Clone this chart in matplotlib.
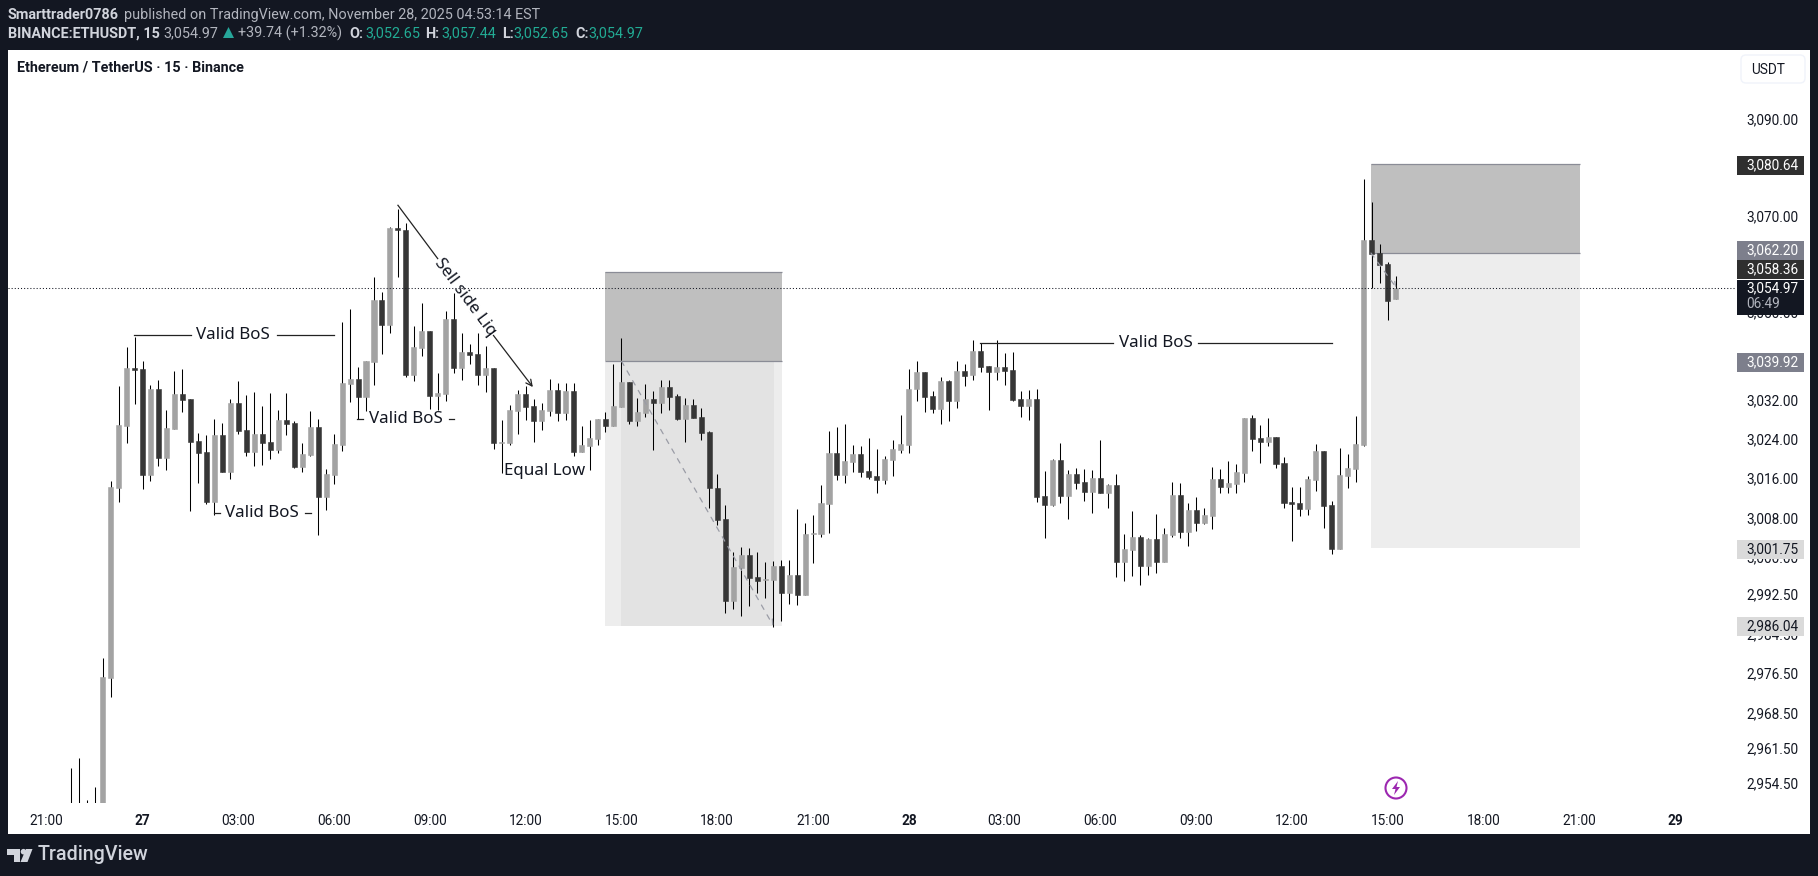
import matplotlib
matplotlib.use('Agg')
import matplotlib.pyplot as plt
from matplotlib.patches import Rectangle, Polygon, Circle, FancyBboxPatch
from matplotlib.ticker import NullLocator

plt.rcParams['font.family'] = ['Roboto', 'DejaVu Sans']

# candles, 15 min each, first one is 9 bars before 27 Nov 00:00
first_bar = -9
opens = [2945, 2942, 2945, 2946, 2948, 2975.6, 3014.0, 3026.6, 3038.5,
         3038.3, 3016.6, 3034.1, 3020.1, 3026.0, 3033.1, 3032.1, 3023.5, 3021.3, 3011.1,
         3024.7, 3017.2, 3031.3, 3025.8, 3021.3, 3024.9, 3023.3, 3021.7, 3027.8, 3027.2,
         3018.3, 3020.7, 3026.4, 3012.2, 3016.6, 3022.8, 3035.3, 3036.2, 3032.6, 3039.7,
         3052.4, 3047.3, 3067.3, 3066.9, 3037.1, 3042.6, 3046.1, 3032.8, 3033.2, 3048.5,
         3038.5, 3041.7, 3041.3, 3037.1, 3038.5, 3023.1, 3023.2, 3029.7, 3033.1, 3030.7,
         3027.7, 3029.7, 3033.9, 3029.3, 3033.7, 3021.3, 3022.5, 3023.9, 3028.0, 3026.6,
         3030.5, 3035.6, 3027.7, 3029.2, 3032.1, 3031.3, 3034.6, 3032.7, 3028.0, 3030.9,
         3028.4, 3025.4, 3013.9, 3007.6, 2991.1, 2997.7, 3000.3, 2995.9, 2995.3, 2995.3,
         2998.1, 2992.6, 2996.3, 2992.2, 3004.6, 3004.6, 3010.7, 3021.1, 3016.6, 3019.2,
         3020.9, 3017.4, 3016.4, 3015.6, 3019.6, 3021.7, 3022.7, 3034.1, 3037.7, 3032.7,
         3030.1, 3035.8, 3031.7, 3037.9, 3037.0, 3042.0, 3038.9, 3037.7, 3038.7, 3038.1,
         3032.1, 3030.7, 3032.1, 3012.3, 3010.5, 3019.6, 3012.3, 3016.8, 3015.2, 3013.1,
         3016.0, 3012.9, 3014.5, 2998.9, 3001.3, 3004.0, 2998.1, 3003.6, 2998.9, 3004.4,
         3012.5, 3005.0, 3009.5, 3006.8, 3008.3, 3015.8, 3014.1, 3014.7, 3017.0, 3028.2,
         3024.1, 3023.3, 3024.3, 3019.0, 3011.1, 3010.9, 3009.7, 3015.6, 3021.5, 3010.5,
         3001.5, 3016.4, 3017.8, 3022.7, 3065.0, 3062.2, 3059.9, 3052.65]
highs = [2957.5, 2959.5, 2951.1, 2953.7, 2979.5, 3015.3, 3034.8, 3042.8, 3044.8,
         3039.9, 3035.0, 3036.0, 3029.8, 3037.9, 3038.3, 3032.1, 3025.1, 3024.7, 3028.0,
         3027.2, 3032.1, 3035.8, 3032.9, 3033.5, 3030.7, 3033.3, 3029.9, 3033.3, 3027.6,
         3023.1, 3029.6, 3028.0, 3017.8, 3024.9, 3047.9, 3050.6, 3038.7, 3039.9, 3057.2,
         3054.1, 3067.5, 3071.3, 3068.4, 3047.1, 3051.8, 3046.1, 3037.4, 3050.2, 3053.9,
         3045.7, 3043.4, 3045.7, 3043.0, 3038.5, 3027.8, 3030.9, 3033.9, 3034.8, 3032.1,
         3031.3, 3036.2, 3035.4, 3035.4, 3035.4, 3026.6, 3027.8, 3028.0, 3029.4, 3039.3,
         3044.6, 3035.6, 3032.3, 3035.2, 3033.7, 3036.0, 3036.0, 3033.1, 3032.3, 3032.1,
         3030.3, 3025.6, 3016.8, 3010.5, 3000.9, 3001.9, 3001.7, 3000.9, 2998.9, 2999.1,
         2999.3, 2999.3, 3009.7, 3006.8, 3008.5, 3014.5, 3025.6, 3026.4, 3027.0, 3022.7,
         3022.5, 3024.1, 3021.9, 3020.5, 3023.7, 3028.9, 3038.3, 3039.9, 3037.7, 3033.7,
         3036.6, 3036.0, 3039.9, 3039.3, 3044.2, 3043.6, 3038.9, 3044.2, 3041.5, 3041.7,
         3033.7, 3033.9, 3034.3, 3017.4, 3019.8, 3023.1, 3017.6, 3018.0, 3017.8, 3017.6,
         3023.7, 3014.7, 3016.8, 3004.6, 3009.3, 3004.4, 3003.8, 3008.7, 3005.8, 3015.2,
         3014.9, 3010.9, 3012.1, 3009.9, 3018.3, 3017.8, 3019.4, 3018.8, 3028.2, 3028.9,
         3026.8, 3028.2, 3024.3, 3020.3, 3014.1, 3014.1, 3016.4, 3022.9, 3021.5, 3011.3,
         3022.1, 3020.9, 3028.6, 3077.5, 3072.7, 3064.0, 3060.3, 3057.44]
lows = [2940, 2938, 2940, 2944, 2946, 2971.7, 3011.1, 3023.2, 3031.1,
        3013.8, 3015.4, 3018.5, 3017.7, 3026.0, 3029.5, 3009.3, 3015.0, 3010.7, 3008.5,
        3017.2, 3015.8, 3025.0, 3020.5, 3018.5, 3018.7, 3019.9, 3021.1, 3024.8, 3018.1,
        3017.2, 3020.5, 3004.4, 3009.5, 3014.8, 3021.5, 3031.6, 3028.0, 3029.7, 3035.0,
        3041.3, 3045.7, 3057.2, 3036.6, 3035.9, 3041.0, 3030.1, 3029.9, 3031.8, 3037.5,
        3036.1, 3039.4, 3035.0, 3033.6, 3021.9, 3017.0, 3022.7, 3025.0, 3027.8, 3023.4,
        3025.8, 3028.7, 3027.7, 3027.8, 3020.5, 3021.3, 3017.6, 3022.7, 3025.4, 3026.6,
        3030.5, 3027.1, 3026.6, 3028.4, 3021.8, 3029.2, 3029.9, 3027.8, 3023.3, 3028.2,
        3023.7, 3009.9, 3006.4, 2988.6, 2989.4, 2988.0, 2990.0, 2992.6, 2991.6, 2985.7,
        2987.0, 2990.4, 2990.2, 2992.2, 2998.7, 3004.0, 3004.8, 3015.6, 3014.9, 3017.2,
        3016.2, 3015.8, 3012.9, 3014.7, 3016.4, 3021.1, 3021.1, 3031.7, 3029.4, 3029.2,
        3027.0, 3027.6, 3030.3, 3034.8, 3036.0, 3037.7, 3029.9, 3036.0, 3035.0, 3031.7,
        3028.4, 3027.8, 3011.1, 3003.8, 3010.3, 3010.9, 3007.6, 3013.7, 3011.3, 3008.9,
        3012.9, 3009.9, 2995.9, 2995.1, 2996.1, 2994.3, 2996.3, 2996.7, 2998.9, 3004.0,
        3003.8, 3002.1, 3005.2, 3006.6, 3005.6, 3012.9, 3012.9, 3012.9, 3015.2, 3021.5,
        3019.0, 3022.5, 3018.0, 3009.9, 3003.2, 3008.3, 3008.5, 3013.3, 3005.8, 3000.5,
        3001.5, 3013.9, 3015.2, 3022.5, 3054.9, 3056.0, 3048.3, 3052.65]
closes = [2942, 2945, 2946, 2948, 2975.7, 3014.1, 3026.8, 3038.5, 3038.1,
          3016.6, 3034.1, 3020.1, 3026.2, 3033.1, 3032.0, 3023.4, 3021.1, 3011.1, 3024.7,
          3017.2, 3031.3, 3025.6, 3021.3, 3024.9, 3023.2, 3021.7, 3027.8, 3027.0, 3018.3,
          3020.9, 3026.4, 3012.2, 3016.8, 3022.9, 3035.4, 3036.2, 3032.6, 3039.9, 3052.4,
          3047.3, 3067.3, 3066.9, 3037.0, 3042.8, 3046.1, 3032.8, 3033.3, 3048.5, 3038.5,
          3041.7, 3041.1, 3037.1, 3038.5, 3023.2, 3023.3, 3029.9, 3033.1, 3030.5, 3027.7,
          3029.9, 3033.9, 3029.3, 3033.7, 3021.3, 3022.7, 3024.1, 3028.0, 3026.6, 3030.7,
          3035.6, 3027.7, 3029.4, 3032.1, 3031.3, 3034.6, 3032.5, 3028.0, 3030.9, 3028.2,
          3025.2, 3013.9, 3007.4, 2991.1, 2997.9, 3000.3, 2995.7, 2995.1, 2995.5, 2998.1,
          2992.6, 2996.3, 2992.2, 3004.6, 3004.8, 3010.9, 3021.1, 3016.6, 3019.4, 3020.9,
          3017.2, 3016.2, 3015.6, 3019.8, 3021.9, 3022.9, 3034.3, 3037.7, 3032.5, 3030.1,
          3035.8, 3031.7, 3037.9, 3036.8, 3042.0, 3038.7, 3037.7, 3038.7, 3037.9, 3031.9,
          3030.7, 3032.1, 3012.1, 3010.5, 3019.6, 3012.3, 3016.8, 3014.9, 3013.1, 3016.0,
          3012.9, 3014.5, 2998.9, 3001.5, 3004.0, 2998.1, 3003.6, 2998.9, 3004.6, 3012.5,
          3005.0, 3009.5, 3006.8, 3008.5, 3015.8, 3014.1, 3014.9, 3017.2, 3028.2, 3023.9,
          3023.3, 3024.3, 3018.8, 3010.9, 3010.7, 3009.7, 3015.8, 3021.5, 3010.3, 3001.5,
          3016.6, 3018.0, 3022.9, 3065.0, 3062.0, 3059.7, 3052.2, 3054.97]

last_price = 3054.97
price_ticks = [3090, 3070, 3050, 3032, 3024, 3016, 3008, 3000, 2992.5, 2984.5,
               2976.5, 2968.5, 2961.5, 2954.5]
time_ticks = [-12, 0, 12, 24, 36, 48, 60, 72, 84, 96, 108, 120, 132, 144, 156, 168, 180, 192]
time_labels = ['21:00', '27', '03:00', '06:00', '09:00', '12:00', '15:00', '18:00', '21:00',
               '28', '03:00', '06:00', '09:00', '12:00', '15:00', '18:00', '21:00', '29']

BG = '#131722'
UP = '#a3a3a3'
DOWN = '#363636'
GREEN = '#22ab94'

fig = plt.figure(figsize=(18.18, 8.76), dpi=100, facecolor=BG)

# white panel behind chart and scales
back = fig.add_axes([0, 0, 1, 1], zorder=0)
back.set_xlim(0, 1818)
back.set_ylim(876, 0)
back.axis('off')
back.add_patch(Rectangle((8, 50), 1802, 784, color='white', lw=0))

ax = fig.add_axes([8 / 1818, (876 - 803) / 876, 1727 / 1818, 753 / 876], zorder=1)
ax.patch.set_alpha(0)
ax.set_yscale('log')

xs = [first_bar + i for i in range(len(opens))]
body_low = [min(o, c) for o, c in zip(opens, closes)]
body_h = [abs(c - o) for o, c in zip(opens, closes)]
colors = [UP if c >= o else DOWN for o, c in zip(opens, closes)]
ax.vlines(xs, lows, highs, color='black', lw=0.75, zorder=3)
ax.bar(xs, body_h, bottom=body_low, width=0.63, color=colors, edgecolor=colors, lw=0.4, zorder=4)

# the two position boxes
ax.fill_between([57.9, 80.1], 3039.92, 3058.36, color='#bfbfbf', lw=0, zorder=1)
ax.fill_between([57.9, 80.1], 2986.04, 3039.92, color='#ededed', lw=0, zorder=1)
ax.fill_between([59.95, 79.1], 2986.04, 3039.92, color='#e3e3e3', lw=0, zorder=1.5)
ax.fill_between([153.9, 180.05], 3062.20, 3080.64, color='#bfbfbf', lw=0, zorder=1)
ax.fill_between([153.9, 180.05], 3001.75, 3062.20, color='#ededed', lw=0, zorder=1)
ax.hlines([3058.36, 3039.92], 57.9, 80.1, color='#8a8c96', lw=0.9, zorder=2)
ax.hlines([3080.64, 3062.20], 153.9, 180.05, color='#8a8c96', lw=0.9, zorder=2)

# dashed moves inside the boxes
for start, end in [((60.0, 3039.92), (79.03, 2986.04)), ((153.9, 3062.2), (157.1, 3054.97))]:
    ax.annotate('', xy=end, xytext=start, zorder=5,
                arrowprops=dict(arrowstyle='->', color='#9a9ca6', lw=0.9, ls=(0, (4, 5)),
                                shrinkA=0, shrinkB=0, mutation_scale=9))

ax.axhline(last_price, color=BG, lw=0.75, ls=(0, (1, 2)), zorder=6)

# Valid BoS labels
bos_y = [3045.2, 3028.0, 3008.9, 3043.64]
bos_text_x = [11.34, 33.01, 14.93, 126.97]
bos_left = [(-1.06, 6.08), (26.91, 27.59), (8.99, 9.71), (104.96, 121.55)]
bos_right = [(16.85, 24.03), (38.36, 39.02), (20.4, 21.07), (132.27, 148.99)]
for y, tx, l, r in zip(bos_y, bos_text_x, bos_left, bos_right):
    ax.plot(l, [y, y], color='#222222', lw=0.9, zorder=5)
    ax.plot(r, [y, y], color='#222222', lw=0.9, zorder=5)
    ax.text(tx, y, 'Valid BoS', ha='center', va='center', fontsize=12.2, family='Noto Sans',
            color=BG, zorder=7)

ax.text(50.43, 3017.35, 'Equal Low', ha='center', va='center', fontsize=12.2, family='Noto Sans',
        color=BG, zorder=7)

# sell side line, broken by its text
ax.plot([32, 36.98], [3072.1, 3061.05], color='#222222', lw=0.9, zorder=5)
ax.annotate('', xy=(48.9, 3034.6), xytext=(43.95, 3045.23), zorder=5,
            arrowprops=dict(arrowstyle='->', color='#222222', lw=0.9, shrinkA=0, shrinkB=0,
                            mutation_scale=11))
ax.text(40.4, 3053.1, 'Sell side Liq', ha='center', va='center', rotation=-53.3,
        rotation_mode='anchor', fontsize=12.2, family='Noto Sans', color=BG, zorder=7)

ax.set_xlim(-16.85, 199.5)
ax.set_ylim(2950.5, 3104.5)
ax.yaxis.tick_right()
ax.yaxis.set_minor_locator(NullLocator())
ax.set_yticks(price_ticks)
ax.set_yticklabels([f'{p:,.2f}' for p in price_ticks], fontsize=9.8, color=BG)
ax.set_xticks(time_ticks)
ax.set_xticklabels(time_labels, fontsize=9.8, color=BG)
for lab in ax.get_xticklabels():
    if lab.get_text() in ('27', '28', '29'):
        lab.set_fontweight('bold')
ax.tick_params(axis='y', length=0, pad=8, which='both')
ax.tick_params(axis='x', length=0, pad=8)
for s in ax.spines.values():
    s.set_visible(False)

# everything drawn in picture pixels: header, footer, price tags
px = fig.add_axes([0, 0, 1, 1], zorder=2)
px.set_xlim(0, 1818)
px.set_ylim(876, 0)
px.axis('off')

HEAD = '#d1d4dc'
MUTED = '#b2b5be'
px.text(8, 15, 'Smarttrader0786', color=HEAD, fontsize=10.4, fontweight='bold', va='center')
px.text(123.7, 15, 'published on TradingView.com, November 28, 2025 04:53:14 EST', color=MUTED,
        fontsize=10.4, va='center')
header2 = [(8, 'BINANCE:ETHUSDT, 15', HEAD, 'bold'), (163.4, '3,054.97', MUTED, 'normal'),
           (238, '+39.74 (+1.32%)', MUTED, 'normal'), (349, 'O:', HEAD, 'bold'),
           (365, '3,052.65', GREEN, 'normal'), (425.4, 'H:', HEAD, 'bold'),
           (441, '3,057.44', GREEN, 'normal'), (502, 'L:', HEAD, 'bold'),
           (513, '3,052.65', GREEN, 'normal'), (575, 'C:', HEAD, 'bold'),
           (588, '3,054.97', GREEN, 'normal')]
for x, s, c, w in header2:
    px.text(x, 33.5, s, color=c, fontsize=10.4, fontweight=w, va='center')
px.add_patch(Polygon([(223, 38), (234, 38), (228.5, 27)], color='#26a69a', lw=0))

px.text(17, 68, 'Ethereum / TetherUS · 15 · Binance', color=BG, fontsize=10.4, fontweight='bold',
        va='center')

px.add_patch(FancyBboxPatch((1744, 58), 58, 22, boxstyle='round,pad=3,rounding_size=5',
                            fc='white', ec='#f0f3fa', lw=1))
px.text(1751, 69.5, 'USDT', color=BG, fontsize=9.8, va='center')

# price tags on the scale
tags = [('3,080.64', 156, 175, '#2f2f2f', 'white'), ('3,062.20', 241, 260, '#7d7f8c', 'white'),
        ('3,058.36', 260, 279, '#2f2f2f', 'white'), ('3,039.92', 353, 372, '#7d7f8c', 'white'),
        ('3,001.75', 540, 559, '#dadada', BG), ('2,986.04', 617, 636, '#dadada', BG)]
for s, y0, y1, fc, tc in tags:
    px.add_patch(Rectangle((1737, y0), 67.3, y1 - y0, color=fc, lw=0))
    px.text(1746, (y0 + y1) / 2, s, color=tc, fontsize=9.8, va='center')
px.add_patch(Rectangle((1737, 280), 67.3, 35, color=BG, lw=0))
px.text(1746, 288.5, '3,054.97', color='white', fontsize=9.8, va='center')
px.text(1746, 304.5, '06:49', color='#b2b5be', fontsize=9.8, va='center')

# footer logo
logo = '#d1d4dc'
px.add_patch(Polygon([(7.3, 849), (20, 849), (20, 862), (14, 862), (14, 854.5), (7.3, 854.5)],
                     color=logo, lw=0))
px.add_patch(Circle((23.5, 851.7), 2.8, color=logo, lw=0))
px.add_patch(Polygon([(26, 849), (32.5, 849), (27.5, 862), (20.5, 862)], color=logo, lw=0))
px.text(38, 855, 'TradingView', color=logo, fontsize=14.2, fontweight='medium', va='center')

# lightning badge
px.add_patch(Circle((1396, 788), 10.5, fc='white', ec='#9c27b0', lw=1.5))
px.add_patch(Polygon([(1398, 781), (1392, 789), (1395.5, 789), (1394, 795), (1400, 787), (1396.5, 787)],
                     color='#9c27b0', lw=0))

fig.savefig('out.png', dpi=100, facecolor=BG)
